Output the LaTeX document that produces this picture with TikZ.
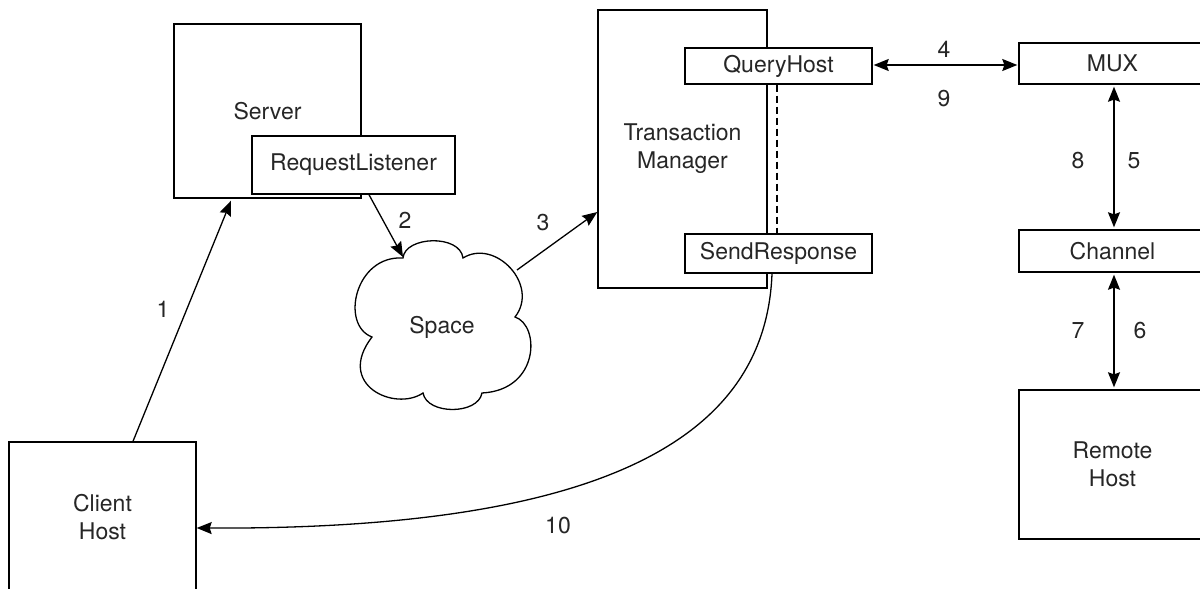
\documentclass[tikz,border=0pt]{standalone}
\usepackage{fontspec}
\setmainfont{TeX Gyre Heros}
\usetikzlibrary{arrows.meta}
\newcommand\lblfont{\fontsize{23}{28}\selectfont}
\begin{document}
\begin{tikzpicture}[x=1pt,y=-1pt,
  box/.style={draw=black, line width=1.4pt, fill=white, minimum width=187pt,
    inner sep=0pt, align=center, font=\lblfont, text=black!85},
  lbl/.style={inner sep=0pt, font=\lblfont, text=black!85},
  arr/.style={line width=1.3pt, -{Stealth[length=15pt,width=12pt,inset=2pt]}},
  arrboth/.style={line width=1.3pt, {Stealth[length=15pt,width=12pt,inset=2pt]}-{Stealth[length=15pt,width=12pt,inset=2pt]}},
  cloudline/.style={line width=1.3pt, fill=white}
]
\clip (0,0) rectangle (1200,589);
\fill[white] (0,0) rectangle (1200,589);

% boxes
\node[box, minimum height=174pt] (server) at (267.5,111) {Server};
\node[box, minimum width=203pt, minimum height=58pt] (rl) at (353.5,165) {RequestListener};
\node[box, minimum width=169pt, minimum height=278pt] (tm) at (682.5,149) {Transaction\\Manager};
\node[box, minimum height=36pt] (qh) at (778.5,66) {QueryHost};
\node[box, minimum height=39pt] (sr) at (778.5,253.5) {SendResponse};
\node[box, minimum height=41pt] (mux) at (1112.5,63.5) {MUX};
\node[box, minimum height=42pt] (chan) at (1112.5,251) {Channel};
\node[box, minimum height=149pt] (remote) at (1112.5,464.5) {Remote\\Host};
\node[box, minimum height=150pt] (client) at (102.5,517) {Client\\Host};

% cloud
\draw[cloudline] (403,258)
  .. controls (405,236) and (460,234) .. (463,258)
  .. controls (495,238) and (540,285) .. (515,317)
  .. controls (540,325) and (540,390) .. (482,393)
  .. controls (478,415) and (427,415) .. (423,393)
  .. controls (395,412) and (335,385) .. (372,337)
  .. controls (340,325) and (355,255) .. (403,258) -- cycle;
\node[lbl] (space) at (442,327) {Space};
\coordinate (spacein) at (403,257);
\coordinate (spaceout) at (517,270);

% connectors
\draw[arr] ([xshift=30.5pt]client.north) -- ([xshift=-36.5pt,yshift=-2pt]server.south);
\draw[arr] ([xshift=15.5pt]rl.south) -- (spacein);
\draw[arr] (spaceout) -- ([yshift=-63pt]tm.west);
\draw[arrboth, shorten <=1pt, shorten >=1pt] ([yshift=1pt]qh.east) -- ([yshift=1pt]qh.east -| mux.west);
\draw[arrboth, shorten <=2pt, shorten >=2pt] ([xshift=1.5pt]mux.south) -- ([xshift=1.5pt]chan.north);
\draw[arrboth, shorten <=2pt, shorten >=2pt] ([xshift=1.5pt]chan.south) -- ([xshift=1.5pt]remote.north);
\draw[line width=1.2pt, dash pattern=on 7pt off 4pt] ([xshift=-1.5pt]qh.south) -- ([xshift=-1.5pt]sr.north);
\draw[arr] ([xshift=-6.5pt]sr.south) .. controls (766,430) and (620,530) .. ([yshift=-11pt]client.east);

% labels
\node[lbl] (n1) at (163,309) {1};
\node[lbl] (n2) at (405,220) {2};
\node[lbl] (n3) at (543,223) {3};
\node[lbl] (n4) at (944,49) {4};
\node[lbl] (n9) at (944,99) {9};
\node[lbl] (n8) at (1078,161) {8};
\node[lbl] (n5) at (1134,161) {5};
\node[lbl] (n7) at (1078,331) {7};
\node[lbl] (n6) at (1140,331) {6};
\node[lbl] (n10) at (558,526) {10};
\end{tikzpicture}
\end{document}
